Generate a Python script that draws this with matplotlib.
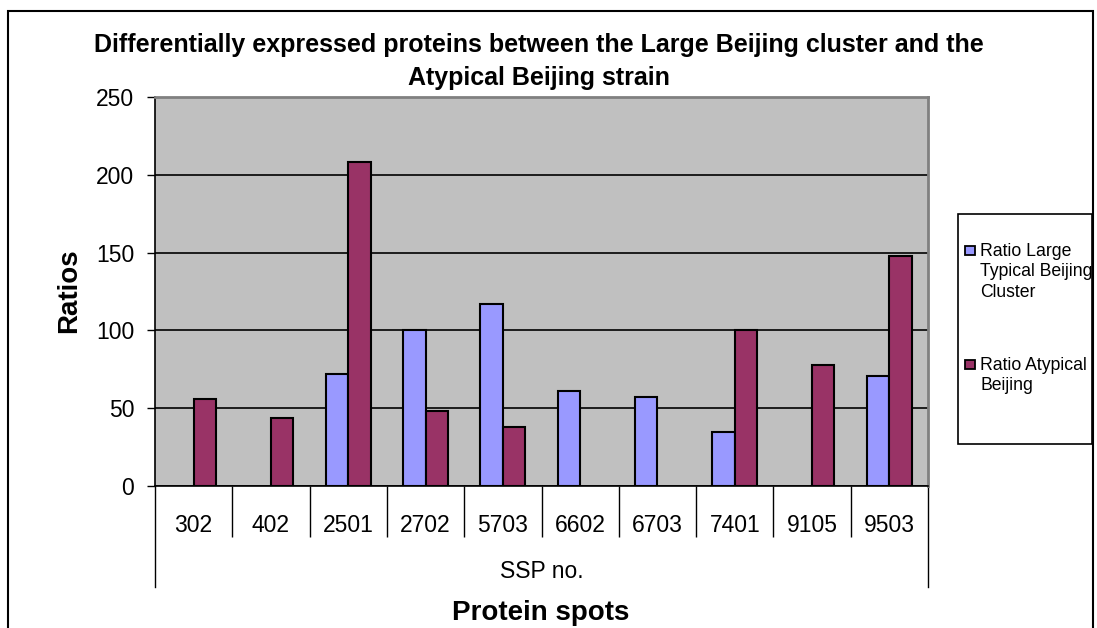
import numpy as np
import matplotlib.pyplot as plt
from matplotlib.patches import Rectangle
from matplotlib.transforms import blended_transform_factory

plt.rcParams['font.family'] = ['Liberation Sans', 'DejaVu Sans']

# データ
spots = ['302', '402', '2501', '2702', '5703', '6602', '6703', '7401', '9105', '9503']
ratio_typical = [np.nan, np.nan, 72, 100, 117, 61, 57, 35, np.nan, 71]
ratio_atypical = [56, 44, 208, 48, 38, np.nan, np.nan, 100, 78, 148]
legend_labels = ['Ratio Large\nTypical Beijing\nCluster', 'Ratio Atypical\nBeijing']
title_lines = ['Differentially expressed proteins between the Large Beijing cluster and the',
               'Atypical Beijing strain']
colors = ['#9999FF', '#993366']

W, H = 1097, 628
fig = plt.figure(figsize=(W / 100, H / 100), dpi=100)
ax = fig.add_axes([155 / W, 1 - 486 / H, (928 - 155) / W, (486 - 97) / H])
ax.set_facecolor('#C0C0C0')

x = np.arange(len(spots))
w = 0.29
ax.bar(x - w / 2, ratio_typical, w, color=colors[0], edgecolor='black', linewidth=1.5, zorder=3)
ax.bar(x + w / 2, ratio_atypical, w, color=colors[1], edgecolor='black', linewidth=1.5, zorder=3)

ax.set_xlim(-0.5, len(spots) - 0.5)
ax.set_ylim(0, 250)
ax.set_yticks(np.arange(0, 251, 50))
ax.yaxis.grid(True, color='black', linewidth=1.2)
ax.set_axisbelow(True)
ax.tick_params(axis='y', length=6, width=1, pad=9, labelsize=16.5)

# カテゴリラベル
ax.set_xticks(x)
ax.set_xticklabels(spots)
ax.tick_params(axis='x', which='major', length=0, pad=20, labelsize=16.5)
ax.set_xticks(np.arange(0.5, len(spots) - 1, 1), minor=True)
ax.tick_params(axis='x', which='minor', length=37, width=1, color='black')

tr = blended_transform_factory(ax.transData, ax.transAxes)
for xb in [-0.5, len(spots) - 0.5]:
    ax.plot([xb, xb], [0, -101 / 389], transform=tr, color='black', lw=1, clip_on=False)

ax.text(0.5, -(571 - 486) / 389, 'SSP no.', transform=ax.transAxes, ha='center', va='center',
        fontsize=16.5)

for s in ['top', 'right']:
    ax.spines[s].set_color('#808080')
    ax.spines[s].set_linewidth(2)
ax.spines['left'].set_linewidth(1.2)
ax.spines['bottom'].set_linewidth(1.2)

# タイトル (2行)
for line, base in zip(title_lines, [52, 85]):
    fig.text(539 / W, 1 - base / H, line, ha='center', va='baseline',
             fontsize=18, fontweight='bold')
fig.text(69 / W, 1 - 291 / H, 'Ratios', rotation=90, ha='center', va='center',
         fontsize=20, fontweight='bold')
fig.text(541 / W, 1 - 613 / H, 'Protein spots', ha='center', va='center',
         fontsize=20, fontweight='bold')

# 凡例 (Excel風: マーカーは1行目に揃える)
fig.patches.append(Rectangle((958 / W, 1 - 444 / H), 134 / W, 230 / H, transform=fig.transFigure,
                             facecolor='white', edgecolor='black', linewidth=1.2))
first_baseline = [256, 370]
for label, col, base in zip(legend_labels, colors, first_baseline):
    fig.patches.append(Rectangle((964.5 / W, 1 - (base - 1) / H), 10 / W, 9.5 / H,
                                 transform=fig.transFigure, facecolor=col,
                                 edgecolor='black', linewidth=1.3))
    for k, line in enumerate(label.split('\n')):
        fig.text(980 / W, 1 - (base + 20.5 * k) / H, line, ha='left', va='baseline',
                 fontsize=12.7)

# 外枠
fig.patches.append(Rectangle((8 / W, -0.05), (1093 - 8) / W, 1.05 - 11 / H, transform=fig.transFigure,
                             facecolor='none', edgecolor='black', linewidth=1.5))

fig.savefig('out.png', dpi=100)
